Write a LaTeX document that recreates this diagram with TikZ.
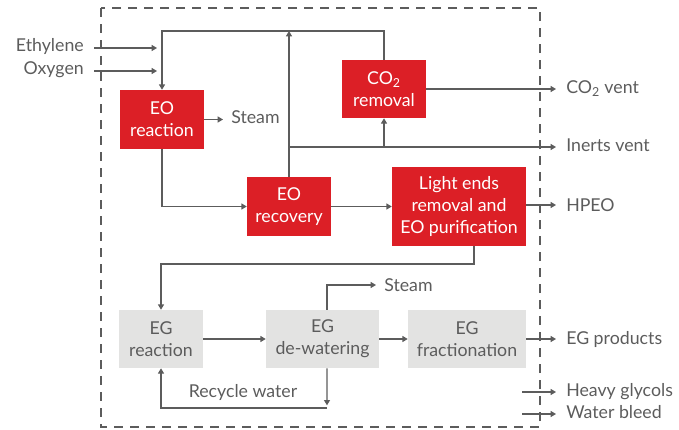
\documentclass[tikz,border=0pt]{standalone}
\usepackage{fontspec}
\setmainfont{Lato}
\usetikzlibrary{arrows.meta}
\definecolor{eored}{HTML}{DC1F26}
\definecolor{eggrey}{HTML}{E3E3E2}
\definecolor{linegrey}{HTML}{5C5C5C}
\begin{document}
\begin{tikzpicture}[x=0.75pt,y=-0.75pt,
    font=\fontsize{13.3}{16.5}\selectfont,
    flow/.style={draw=linegrey, line width=0.9pt, -{Triangle[length=4pt,width=4.5pt]}},
    redbox/.style={fill=eored, text=white, align=center, inner sep=0pt},
    greybox/.style={fill=eggrey, text=linegrey, align=center, inner sep=0pt},
    lbl/.style={text=linegrey, inner sep=0pt}]
  \useasboundingbox (0,0) rectangle (679,429);
  \draw[linegrey, line width=0.9pt, dash pattern=on 7pt off 5pt] (101,8) rectangle (540,427);
  % EO section
  \node[redbox, minimum width=63pt, minimum height=44.25pt] (eoreac) at (162,119.5) {EO\\reaction};
  \node[redbox, minimum width=63pt, minimum height=44.25pt] (eorec) at (289,206.5) {EO\\recovery};
  \node[redbox, minimum width=63pt, minimum height=43.5pt] (co2) at (384,89) {CO\textsubscript{2}\\removal};
  \node[redbox, minimum width=100.5pt, minimum height=59.25pt] (light) at (459,206.5) {Light ends\\removal and\\EO purification};
  % EG section
  \node[greybox, minimum width=63pt, minimum height=43.5pt] (egreac) at (161,339) {EG\\reaction};
  \node[greybox, minimum width=84.75pt, minimum height=43.5pt] (egdew) at (322.5,339) {EG\\de-watering};
  \node[greybox, minimum width=88.5pt, minimum height=43.5pt] (egfrac) at (467,339) {EG\\fractionation};
  % labels
  \node[lbl, anchor=east] (eth) at (84,46) {Ethylene};
  \node[lbl, anchor=east] (oxy) at (84,70) {Oxygen};
  \node[lbl, anchor=west] (steam1) at (231,117) {Steam};
  \node[lbl, anchor=west] (co2vent) at (566,89) {CO\textsubscript{2} vent};
  \node[lbl, anchor=west] (inerts) at (566,145) {Inerts vent};
  \node[lbl, anchor=west] (hpeo) at (566,205) {HPEO};
  \node[lbl, anchor=west] (steam2) at (384,285) {Steam};
  \node[lbl, anchor=west] (egprod) at (566,339) {EG products};
  \node[lbl, anchor=west] (heavy) at (566,392) {Heavy glycols};
  \node[lbl, anchor=west] (bleed) at (566,412) {Water bleed};
  \node[lbl] (recyclbl) at (243,392) {Recycle water};
  \coordinate (top) at (0,31);
  \coordinate (ventline) at (0,147);
  \coordinate (egfeed) at (474,264);
  \coordinate (recyc) at (327,408);
  \coordinate (ethin) at (94,48);
  \coordinate (oxyin) at (94,71);
  \coordinate (heavyin) at (522,392);
  \coordinate (bleedin) at (522,414);
  % connectors
  \draw[flow] (ethin) -- (157,48);
  \draw[flow] (oxyin) -- (157,71);
  \draw[flow] (co2.north) -- (co2.north |- top) -| (eoreac.north);
  \draw[flow] (eorec.north) -- (eorec.north |- top);
  \draw[flow, shorten >=6pt] (eoreac.east) -- (eoreac.east -| steam1.west);
  \draw[flow] (eoreac.south) |- (eorec.west);
  \draw[flow, shorten >=7.5pt] (eorec.north |- ventline) -- (ventline -| inerts.west);
  \draw[flow] (co2.south |- ventline) -- (co2.south);
  \draw[flow, shorten >=7.5pt] (co2.east) -- (co2.east -| co2vent.west);
  \draw[flow] (eorec.east) -- (eorec.east -| light.west);
  \draw[flow, shorten >=7.5pt] (light.east |- hpeo.west) -- (hpeo.west);
  \draw[flow] (light.south -| egfeed) -- (egfeed) -| (egreac.north);
  \draw[flow] (egreac) -- (egdew);
  \draw[flow] (egdew) -- (egfrac);
  \draw[flow, shorten >=6pt] ([xshift=3.4pt]egdew.north) |- (steam2.west);
  \draw[flow, shorten >=7.5pt] (egfrac.east) -- (egfrac.east -| egprod.west);
  \draw[flow, shorten >=2pt] ([xshift=3.4pt]egdew.south) -- (recyc);
  \draw[flow] (recyc) -| (egreac.south);
  \draw[flow, shorten >=7.5pt] (heavyin) -- (heavyin -| heavy.west);
  \draw[flow, shorten >=7.5pt] (bleedin) -- (bleedin -| bleed.west);
\end{tikzpicture}
\end{document}
